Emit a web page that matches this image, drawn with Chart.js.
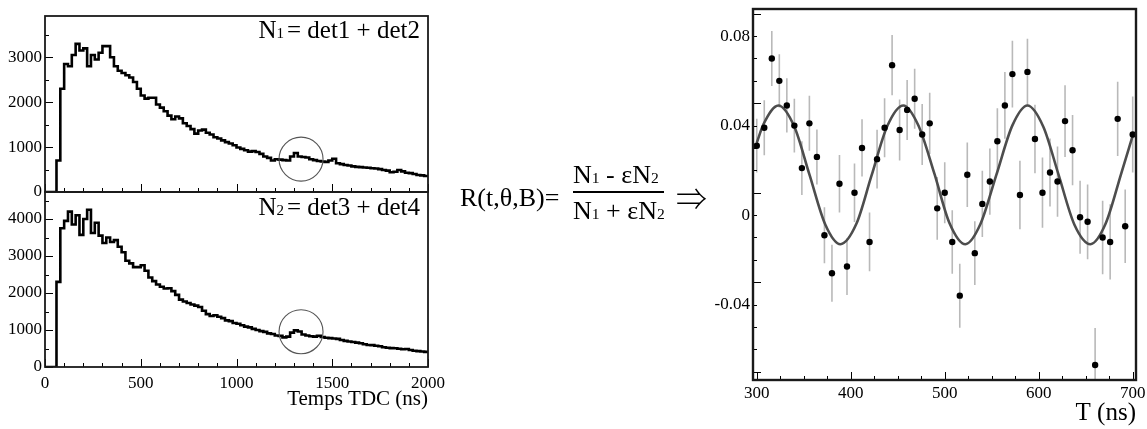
<!DOCTYPE html>
<html><head><meta charset="utf-8">
<script src="https://cdn.jsdelivr.net/npm/chart.js@4.4.1/dist/chart.umd.min.js"></script>
<style>
html,body{margin:0;padding:0;background:#fff;}
body{width:1147px;height:429px;position:relative;overflow:hidden;font-family:"Liberation Serif","Times New Roman",serif;color:#000;}
canvas{position:absolute;}
.t{position:absolute;white-space:nowrap;line-height:1;}
.s{font-size:0.6em;}
</style></head><body>
<canvas id="h1" width="460" height="205" style="left:0;top:0"></canvas>
<canvas id="h2" width="460" height="251" style="left:0;top:178px"></canvas>
<canvas id="rc" width="447" height="429" style="left:700px;top:0"></canvas>

<div class="t" style="right:727px;top:17px;font-size:25px">N<span class="s">1</span><span style="margin-left:3px">=</span> det1 + det2</div>
<div class="t" style="right:727px;top:194px;font-size:25px">N<span class="s">2</span><span style="margin-left:3px">=</span> det3 + det4</div>

<div class="t" style="left:460px;top:185px;font-size:26px">R(t,θ,B)=</div>
<div class="t" style="left:573px;top:162px;font-size:26px">N<span class="s">1</span> - εN<span class="s">2</span></div>
<div style="position:absolute;left:573px;top:191px;width:91px;height:1.5px;background:#000"></div>
<div class="t" style="left:573px;top:198px;font-size:26px">N<span class="s">1</span> + εN<span class="s">2</span></div>
<div class="t" style="left:676px;top:181px;font-size:31px;font-family:'Noto Sans CJK JP','DejaVu Sans',sans-serif;font-weight:300">⇒</div>

<script>
// ---------- DATA ----------
const BIN_WIDTH = 20; // ns
const N1_counts = [0,0,0,700,2300,2850,2800,3050,3300,3150,
 3200,2800,3050,2950,3100,3250,3250,3000,2800,2700,
 2650,2600,2550,2450,2300,2150,2080,2100,2100,1950,
 1880,1800,1700,1620,1680,1640,1530,1470,1400,1300,
 1370,1390,1320,1280,1220,1190,1150,1110,1080,1040,
 990,960,930,900,910,890,850,790,760,700,
 730,720,710,700,790,870,790,780,770,730,
 710,690,680,670,700,740,640,620,600,590,
 570,560,555,545,540,530,525,510,490,475,
 440,450,490,460,430,420,400,380,370,355];
const N2_counts = [0,0,0,2300,3750,3950,4200,3850,4100,3570,
 4000,4250,3620,3900,3550,3350,3500,3380,3430,3250,
 3100,2870,2800,2700,2700,2750,2600,2420,2320,2230,
 2170,2120,2130,2050,1950,1820,1770,1730,1690,1660,
 1620,1520,1430,1380,1400,1360,1320,1260,1240,1190,
 1170,1130,1090,1070,1030,1000,970,950,910,890,
 850,840,800,820,930,990,960,880,850,830,
 820,845,810,790,780,770,760,730,705,690,
 675,660,640,615,595,590,575,560,535,520,
 510,505,495,480,485,460,440,430,420,410];
const histTicksY = [0,1000,2000,3000,4000];
const histTicksX = [0,500,1000,1500,2000];

const T_ns = [300,308,316,324,332,340,348,356,364,372,380,388,396,404,412,420,428,436,444,452,
 460,468,476,484,492,500,508,516,524,532,540,548,556,564,572,580,588,596,604,612,
 620,628,636,644,652,660,668,676,684,692,700];
const R_values = [0.031,0.039,0.070,0.060,0.049,0.040,0.021,0.041,0.026,-0.009,
 -0.026,0.014,-0.023,0.010,0.030,-0.012,0.025,0.039,0.067,0.038,
 0.047,0.052,0.036,0.041,0.003,0.010,-0.012,-0.036,0.018,-0.017,
 0.005,0.015,0.033,0.049,0.063,0.009,0.064,0.034,0.010,0.019,
 0.015,0.042,0.029,-0.001,-0.003,-0.067,-0.010,-0.012,0.043,-0.005,0.036];
const R_errors = [0.012,0.0123,0.0123,0.0119,0.0121,0.012,0.012,0.0123,0.0123,0.0125,
 0.0127,0.0129,0.0127,0.0131,0.0128,0.0131,0.0131,0.0132,0.0135,0.0136,
 0.0134,0.0134,0.0136,0.0137,0.014,0.0136,0.0142,0.0143,0.0144,0.0142,
 0.0148,0.0148,0.0147,0.0149,0.0149,0.0153,0.0148,0.0153,0.0157,0.0152,
 0.0157,0.016,0.0157,0.0163,0.0167,0.0165,0.0164,0.0168,0.0166,0.0164,0.017];
const fit_T = [300,307,323,340,356,373,389,406,422,439,456,472,489,505,522,538,555,572,588,605,621,638,655,671,688,700];
const fit_R = [0.0323,0.0405,0.049,0.0395,0.0182,-0.0043,-0.013,-0.0039,0.0175,0.0399,0.049,0.040,0.0185,-0.0035,-0.013,-0.004,0.0181,0.0401,0.049,0.0394,0.0182,-0.0043,-0.013,-0.004,0.0189,0.0355];
const rTicksX = [300,400,500,600,700];
const rTicksY = [-0.04,0,0.04,0.08];

// ---------- SETUP ----------
Chart.defaults.font.family = '"Liberation Serif","Times New Roman",serif';
Chart.defaults.font.size = 17;
Chart.defaults.color = '#000';

function histPoints(counts){
  const pts = counts.map((v,i)=>({x:i*BIN_WIDTH, y:v}));
  pts.push({x:counts.length*BIN_WIDTH, y:counts[counts.length-1]});
  return pts;
}

function framePlugin(spec){
  return {
    id:'frame_'+spec.name,
    beforeDatasetsDraw(chart){
      if(!spec.errors) return;
      const {ctx, chartArea:a, scales:{x,y}} = chart;
      ctx.save();
      ctx.beginPath(); ctx.rect(a.left,a.top,a.right-a.left,a.bottom-a.top); ctx.clip();
      ctx.strokeStyle = '#b9b9b9'; ctx.lineWidth = 1.6;
      ctx.beginPath();
      spec.errors.x.forEach((t,i)=>{
        const px = x.getPixelForValue(t);
        ctx.moveTo(px, y.getPixelForValue(spec.errors.y[i]-spec.errors.e[i]));
        ctx.lineTo(px, y.getPixelForValue(spec.errors.y[i]+spec.errors.e[i]));
      });
      ctx.stroke();
      ctx.restore();
    },
    afterDatasetsDraw(chart){
      const {ctx, chartArea:a, scales:{x,y}} = chart;
      ctx.save();
      ctx.strokeStyle = '#000'; ctx.lineWidth = 1;
      ctx.beginPath();
      const nx = Math.round((spec.xEnd-spec.xStart)/spec.xMinor);
      for(let k=0;k<=nx;k++){
        const v = spec.xStart + k*spec.xMinor;
        const p = Math.round(x.getPixelForValue(v))+0.5;
        const major = (k % spec.xMajorEvery)===0;
        ctx.moveTo(p,a.bottom); ctx.lineTo(p,a.bottom-(major?8:4));
      }
      const ny = Math.round((spec.yEnd-spec.yStart)/spec.yMinor);
      for(let k=0;k<=ny;k++){
        const v = spec.yStart + k*spec.yMinor;
        if (v < y.min - 1e-9 || v > y.max + 1e-9) continue;
        const p = Math.round(y.getPixelForValue(v))+0.5;
        const major = (k % spec.yMajorEvery)===0;
        ctx.moveTo(a.left,p); ctx.lineTo(a.left+(major?8:4),p);
      }
      ctx.stroke();
      if(spec.circle){
        ctx.strokeStyle = '#555'; ctx.lineWidth = 1.1;
        ctx.beginPath();
        ctx.arc(x.getPixelForValue(spec.circle.x), y.getPixelForValue(spec.circle.y), 22, 0, Math.PI*2);
        ctx.stroke();
      }
      ctx.strokeStyle = '#1a1a1a'; ctx.lineWidth = spec.frameW;
      ctx.strokeRect(a.left, a.top, a.right-a.left, a.bottom-a.top);
      ctx.restore();
    }
  };
}

function histChart(id, counts, yMax, showX, pad, circleY){
  const ticksSet = (arr)=> (scale)=>{ scale.ticks = arr.filter(v=>v>=scale.min&&v<=scale.max).map(v=>({value:v})); };
  return new Chart(document.getElementById(id), {
    type:'line',
    data:{datasets:[{data:histPoints(counts), stepped:true, borderColor:'#000', borderWidth:2.6, pointRadius:0, fill:false}]},
    options:{
      responsive:false, animation:false, devicePixelRatio:1, events:[],
      layout:{padding:pad},
      plugins:{legend:{display:false}, tooltip:{enabled:false}},
      scales:{
        x:{type:'linear', min:0, max:2000, display:showX,
           afterBuildTicks: ticksSet(histTicksX),
           grid:{display:false, drawTicks:false}, border:{display:false},
           ticks:{autoSkip:false, maxRotation:0, padding:6, callback:v=>String(v)},
           title:{display:showX, text:'Temps TDC (ns)', align:'end', font:{size:21}, padding:0},
           afterFit:(s)=>{ if(showX) s.height = 45; s.paddingLeft=0; s.paddingRight=0; }},
        y:{type:'linear', min:0, max:yMax,
           afterBuildTicks: ticksSet(histTicksY),
           grid:{display:false, drawTicks:false}, border:{display:false},
           ticks:{autoSkip:false, padding:3, callback:v=>String(v)},
           afterFit:(s)=>{ s.width = 45; s.paddingTop=0; s.paddingBottom=0; }}
      }
    },
    plugins:[framePlugin({name:id, xStart:0, xEnd:2000, xMinor:100, xMajorEvery:5,
      yStart:0, yEnd:5000, yMinor:500, yMajorEvery:2, frameW:1.8,
      circle:{x:1337, y:circleY}})]
  });
}

histChart('h1', N1_counts, 3920, false, {top:16, right:32, bottom:13, left:0}, 733);
histChart('h2', N2_counts, 4730, true, {top:14, right:32, bottom:17, left:0}, 954);

new Chart(document.getElementById('rc'), {
  type:'line',
  data:{datasets:[
    {data:T_ns.map((t,i)=>({x:t,y:R_values[i]})), showLine:false, pointRadius:3.2,
     pointBackgroundColor:'#000', pointBorderWidth:0, order:0},
    {data:fit_T.map((t,i)=>({x:t,y:fit_R[i]})), borderColor:'#4d4d4d', borderWidth:2.6,
     pointRadius:0, cubicInterpolationMode:'monotone', fill:false, order:1}
  ]},
  options:{
    responsive:false, animation:false, devicePixelRatio:1, events:[],
    layout:{padding:{top:9, right:11, bottom:1, left:0}},
    plugins:{legend:{display:false}, tooltip:{enabled:false}},
    scales:{
      x:{type:'linear', min:296, max:703.5,
         afterBuildTicks:(s)=>{ s.ticks = rTicksX.map(v=>({value:v})); },
         grid:{display:false, drawTicks:false}, border:{display:false},
         ticks:{autoSkip:false, maxRotation:0, padding:3, callback:v=>String(v)},
         title:{display:true, text:'T (ns)', align:'end', font:{size:25}, padding:0},
         afterFit:(s)=>{ s.height = 48; s.paddingLeft=0; s.paddingRight=0; }},
      y:{type:'linear', min:-0.0737, max:0.0921,
         afterBuildTicks:(s)=>{ s.ticks = rTicksY.map(v=>({value:v})); },
         grid:{display:false, drawTicks:false}, border:{display:false},
         ticks:{autoSkip:false, padding:3, callback:v=>(Math.abs(v)<1e-9?'0':v.toFixed(2))},
         afterFit:(s)=>{ s.width = 53; s.paddingTop=0; s.paddingBottom=0; }}
    }
  },
  plugins:[framePlugin({name:'rc', xStart:300, xEnd:700, xMinor:25, xMajorEvery:4,
    yStart:-0.07, yEnd:0.09, yMinor:0.01, yMajorEvery:4, frameW:2.4,
    errors:{x:T_ns, y:R_values, e:R_errors}})]
});
</script>
</body></html>
